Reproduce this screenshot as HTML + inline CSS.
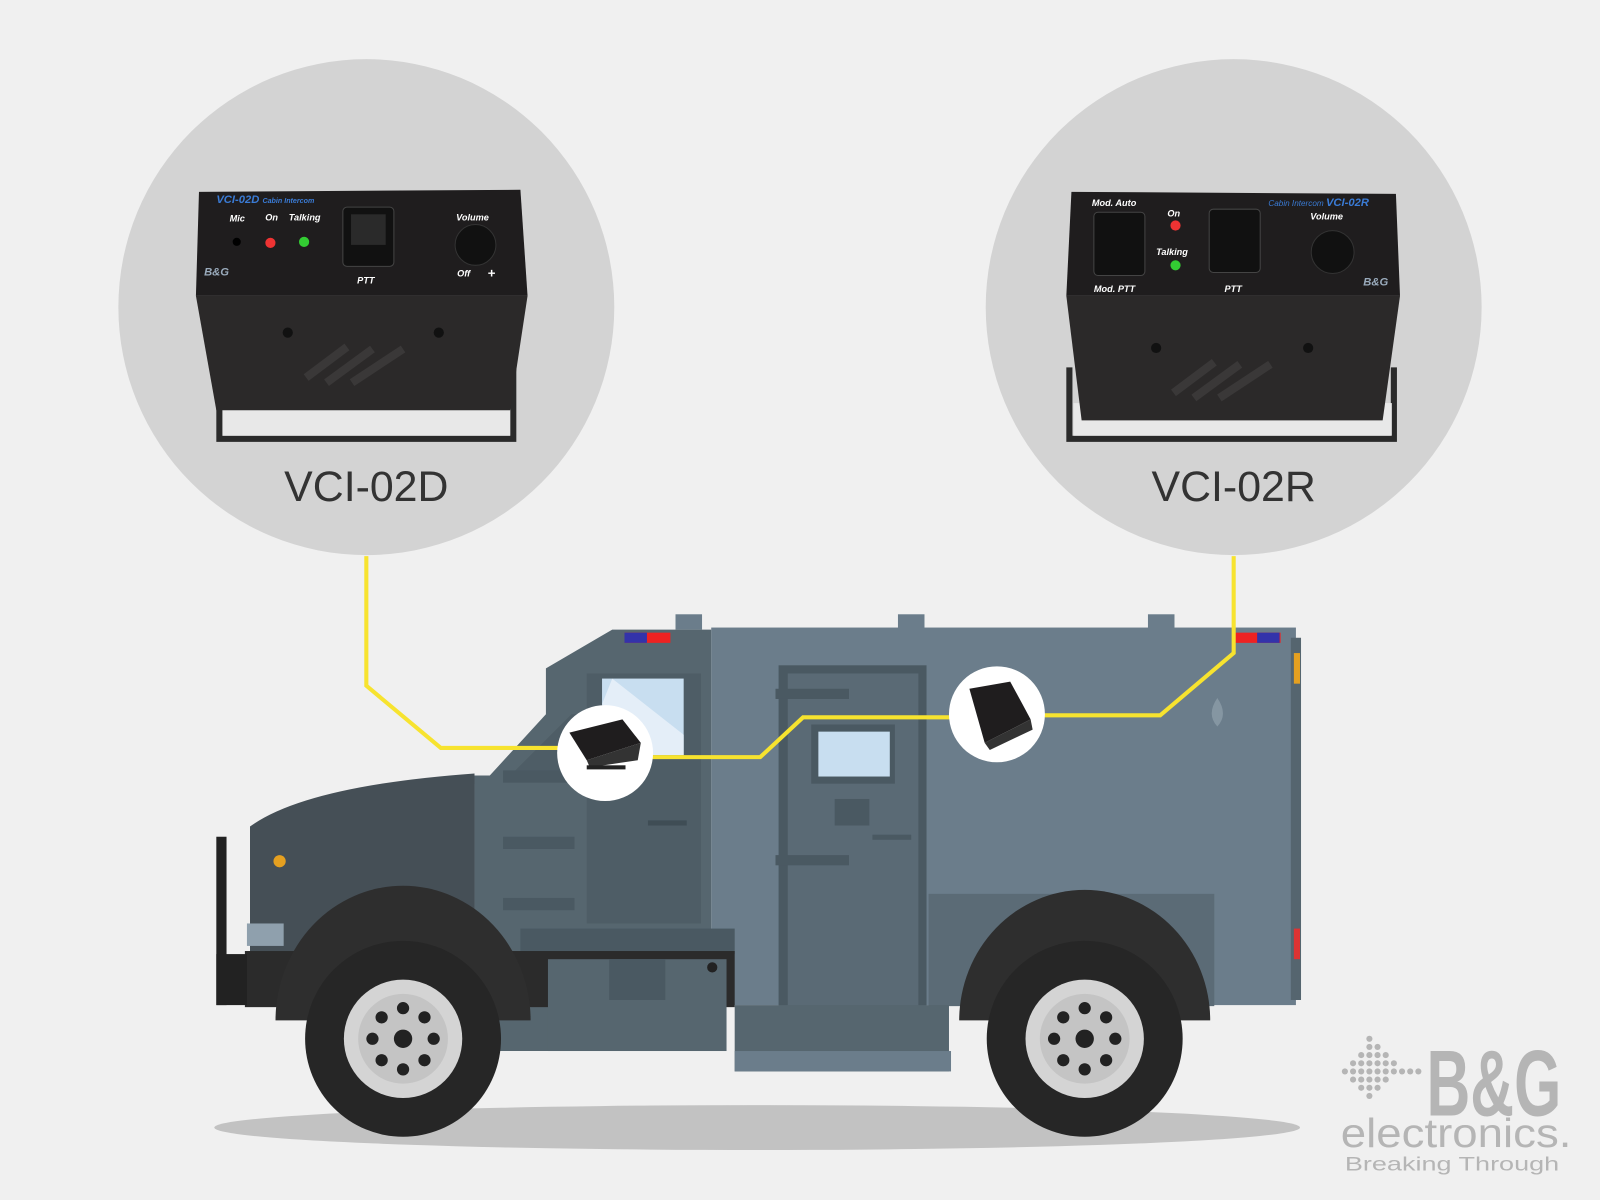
<!DOCTYPE html>
<html><head><meta charset="utf-8"><style>
html,body{margin:0;padding:0;background:#f0f0f0;width:1600px;height:1200px;overflow:hidden}
svg{display:block}
text{font-family:"Liberation Sans",sans-serif}
</style></head><body>
<svg width="1600" height="1200" viewBox="0 0 1568 1176" preserveAspectRatio="none" xmlns="http://www.w3.org/2000/svg">
<rect width="1568" height="1176" fill="#f0f0f0"/>
<circle cx="359" cy="301" r="243" fill="#d3d3d3"/>
<circle cx="1209" cy="301" r="243" fill="#d3d3d3"/>
<!-- left device -->
<g>
<path d="M215 360 L215 430 L503 430 L503 360" fill="none" stroke="#2a2a2a" stroke-width="6"/>
<rect x="218" y="395" width="282" height="32" fill="#e8e8e8"/>
<path d="M192 290 L517 290 L500 402 L212 402 Z" fill="#2b2929"/>
<path d="M195 188 L510 186 L517 290 L192 290 Z" fill="#1f1d1e"/>
<text x="212" y="199" font-size="11" fill="#3a7bd5" font-style="italic" font-weight="bold">VCI-02D <tspan font-size="7">Cabin Intercom</tspan></text>
<text x="225" y="217" font-size="9" fill="#fff" font-style="italic" font-weight="bold">Mic</text>
<text x="260" y="216" font-size="9" fill="#fff" font-style="italic" font-weight="bold">On</text>
<text x="283" y="216" font-size="9" fill="#fff" font-style="italic" font-weight="bold">Talking</text>
<text x="447" y="216" font-size="9" fill="#fff" font-style="italic" font-weight="bold">Volume</text>
<circle cx="232" cy="237" r="4" fill="#000"/>
<circle cx="265" cy="238" r="5" fill="#e33"/>
<circle cx="298" cy="237" r="5" fill="#3c3"/>
<rect x="336" y="203" width="50" height="58" rx="4" fill="#111" stroke="#444"/>
<rect x="344" y="210" width="34" height="30" fill="#2a2a2a"/>
<text x="350" y="278" font-size="9" fill="#fff" font-style="italic" font-weight="bold">PTT</text>
<circle cx="466" cy="240" r="20" fill="#111" stroke="#333"/>
<text x="448" y="271" font-size="9" fill="#fff" font-style="italic" font-weight="bold">Off</text>
<text x="478" y="272" font-size="13" fill="#fff" font-weight="bold">+</text>
<text x="200" y="270" font-size="11" fill="#9ab" font-style="italic" font-weight="bold">B&amp;G</text>
<circle cx="282" cy="326" r="5" fill="#111"/><circle cx="430" cy="326" r="5" fill="#111"/>
<path d="M300 370 L340 340 M320 375 L365 342 M345 375 L395 342" stroke="#3a3838" stroke-width="8"/>
</g>
<!-- right device -->
<g>
<path d="M1048 360 L1048 430 L1366 430 L1366 360" fill="none" stroke="#2a2a2a" stroke-width="6"/>
<rect x="1052" y="395" width="312" height="32" fill="#e8e8e8"/>
<path d="M1045 290 L1372 290 L1355 412 L1060 412 Z" fill="#2b2929"/>
<path d="M1050 188 L1368 190 L1372 290 L1045 290 Z" fill="#1f1d1e"/>
<text x="1070" y="202" font-size="9" fill="#fff" font-style="italic" font-weight="bold">Mod. Auto</text>
<text x="1072" y="286" font-size="9" fill="#fff" font-style="italic" font-weight="bold">Mod. PTT</text>
<text x="1144" y="212" font-size="9" fill="#fff" font-style="italic" font-weight="bold">On</text>
<text x="1133" y="250" font-size="9" fill="#fff" font-style="italic" font-weight="bold">Talking</text>
<text x="1243" y="202" font-size="8" fill="#3a7bd5" font-style="italic">Cabin Intercom <tspan font-size="11" font-weight="bold">VCI-02R</tspan></text>
<text x="1284" y="215" font-size="9" fill="#fff" font-style="italic" font-weight="bold">Volume</text>
<text x="1200" y="286" font-size="9" fill="#fff" font-style="italic" font-weight="bold">PTT</text>
<rect x="1072" y="208" width="50" height="62" rx="4" fill="#111" stroke="#444"/>
<rect x="1185" y="205" width="50" height="62" rx="4" fill="#111" stroke="#444"/>
<circle cx="1152" cy="221" r="5" fill="#e33"/>
<circle cx="1152" cy="260" r="5" fill="#3c3"/>
<circle cx="1306" cy="247" r="21" fill="#111" stroke="#333"/>
<text x="1336" y="280" font-size="11" fill="#9ab" font-style="italic" font-weight="bold">B&amp;G</text>
<circle cx="1133" cy="341" r="5" fill="#111"/><circle cx="1282" cy="341" r="5" fill="#111"/>
<path d="M1150 385 L1190 355 M1170 390 L1215 357 M1195 390 L1245 357" stroke="#3a3838" stroke-width="8"/>
</g>
<text x="359" y="491" font-size="42" fill="#333" text-anchor="middle">VCI-02D</text>
<text x="1209" y="491" font-size="42" fill="#333" text-anchor="middle">VCI-02R</text>
<ellipse cx="742" cy="1105" rx="532" ry="22" fill="#c2c2c2"/>
<!-- truck -->
<g>
<rect x="697" y="615" width="573" height="370" fill="#6b7d8b"/>
<rect x="662" y="602" width="26" height="15" fill="#6b7d8b"/>
<rect x="880" y="602" width="26" height="15" fill="#6b7d8b"/>
<rect x="1125" y="602" width="26" height="15" fill="#6b7d8b"/>
<rect x="1265" y="625" width="10" height="355" fill="#55656f"/>
<rect x="910" y="876" width="280" height="110" fill="#5b6b76"/>
<rect x="1210" y="620" width="45" height="10" fill="#e22"/><rect x="1232" y="620" width="22" height="10" fill="#33a"/>
<rect x="1268" y="640" width="6" height="30" fill="#e5a020"/>
<rect x="1268" y="910" width="6" height="30" fill="#d33"/>
<path d="M1193 684 Q1204 700 1193 712 Q1182 700 1193 684Z" fill="#8596a2"/>
<rect x="763" y="652" width="145" height="372" fill="#4a5962"/>
<rect x="772" y="660" width="128" height="356" fill="#5a6a75"/>
<rect x="795" y="710" width="82" height="58" fill="#4a5962"/>
<rect x="802" y="717" width="70" height="44" fill="#c8def0"/>
<rect x="818" y="783" width="34" height="26" fill="#4a5962"/>
<rect x="760" y="675" width="72" height="10" fill="#4a5962"/>
<rect x="760" y="838" width="72" height="10" fill="#4a5962"/>
<rect x="760" y="993" width="72" height="10" fill="#4a5962"/>
<rect x="855" y="818" width="38" height="5" fill="#4a5962"/>
<path d="M535 655 L600 617 L697 617 L697 1030 L465 1030 L465 760 L480 760 L535 700 Z" fill="#56666f"/>
<rect x="612" y="620" width="45" height="10" fill="#e22"/><rect x="612" y="620" width="22" height="10" fill="#33a"/>
<path d="M500 760 L560 700 L595 700 L595 760 Z" fill="#4e5d66"/>
<rect x="575" y="660" width="112" height="245" fill="#4e5d66"/>
<rect x="590" y="665" width="80" height="75" fill="#c8def0"/>
<path d="M600 665 L670 720 L670 740 L640 740 L590 690 Z" fill="#e4eef8"/>
<rect x="635" y="804" width="38" height="5" fill="#3f4d55"/>
<rect x="493" y="755" width="70" height="12" fill="#4a5962"/>
<rect x="493" y="820" width="70" height="12" fill="#4a5962"/>
<rect x="493" y="880" width="70" height="12" fill="#4a5962"/>
<rect x="510" y="910" width="210" height="25" fill="#4a5962"/>
<path d="M245 810 Q300 770 465 758 L465 935 L245 935 Z" fill="#454f56"/>
<circle cx="274" cy="844" r="6" fill="#e5a020"/>
<rect x="242" y="905" width="36" height="22" fill="#8fa0ad"/>
<rect x="240" y="932" width="480" height="55" fill="#2b2b2b"/>
<rect x="212" y="820" width="10" height="165" fill="#222"/>
<rect x="212" y="935" width="30" height="50" fill="#222"/>
<rect x="537" y="940" width="175" height="90" fill="#56666f"/>
<rect x="597" y="940" width="55" height="40" fill="#4a5962"/>
<circle cx="698" cy="948" r="5" fill="#222"/>
<rect x="720" y="985" width="210" height="65" fill="#56666f"/>
<rect x="720" y="1030" width="212" height="20" fill="#6b7d8b"/>
<path d="M270 1000 A125 132 0 0 1 520 1000 Z" fill="#2e2e2e"/>
<path d="M940 1000 A123 128 0 0 1 1186 1000 Z" fill="#2e2e2e"/>
<g>
<circle cx="395" cy="1018" r="96" fill="#262626"/>
<circle cx="395" cy="1018" r="58" fill="#d4d4d4"/>
<circle cx="395" cy="1018" r="44" fill="#c4c4c4"/>
<circle cx="395" cy="1018" r="9" fill="#222"/>
<g fill="#222"><circle cx="395" cy="988" r="6"/><circle cx="395" cy="1048" r="6"/><circle cx="365" cy="1018" r="6"/><circle cx="425" cy="1018" r="6"/><circle cx="374" cy="997" r="6"/><circle cx="416" cy="997" r="6"/><circle cx="374" cy="1039" r="6"/><circle cx="416" cy="1039" r="6"/></g>
</g>
<g>
<circle cx="1063" cy="1018" r="96" fill="#262626"/>
<circle cx="1063" cy="1018" r="58" fill="#d4d4d4"/>
<circle cx="1063" cy="1018" r="44" fill="#c4c4c4"/>
<circle cx="1063" cy="1018" r="9" fill="#222"/>
<g fill="#222"><circle cx="1063" cy="988" r="6"/><circle cx="1063" cy="1048" r="6"/><circle cx="1033" cy="1018" r="6"/><circle cx="1093" cy="1018" r="6"/><circle cx="1042" cy="997" r="6"/><circle cx="1084" cy="997" r="6"/><circle cx="1042" cy="1039" r="6"/><circle cx="1084" cy="1039" r="6"/></g>
</g>
</g>
<g fill="none" stroke="#f7e32f" stroke-width="4">
<path d="M359 545 L359 672 L432 733 L548 733"/>
<path d="M638 742 L745 742 L787 703 L932 703"/>
<path d="M1209 545 L1209 640 L1137 701 L1022 701"/>
</g>
<circle cx="593" cy="738" r="47" fill="#fff"/>
<path d="M558 718 L610 705 L628 728 L575 745 Z" fill="#1f1d1e"/>
<path d="M575 745 L628 728 L625 745 L578 752 Z" fill="#333"/>
<rect x="575" y="750" width="38" height="4" fill="#222"/>
<circle cx="977" cy="700" r="47" fill="#fff"/>
<path d="M950 675 L990 668 L1002 690 L1010 705 L965 728 Z" fill="#1f1d1e"/>
<path d="M965 728 L1010 705 L1012 715 L970 735 Z" fill="#333"/>
<!-- logo -->
<g fill="#b5b5b5">
<g>
<circle cx="1318" cy="1050" r="3"/><circle cx="1326" cy="1042" r="3"/><circle cx="1326" cy="1050" r="3"/><circle cx="1326" cy="1058" r="3"/>
<circle cx="1334" cy="1034" r="3"/><circle cx="1334" cy="1042" r="3"/><circle cx="1334" cy="1050" r="3"/><circle cx="1334" cy="1058" r="3"/><circle cx="1334" cy="1066" r="3"/>
<circle cx="1342" cy="1018" r="3"/><circle cx="1342" cy="1026" r="3"/><circle cx="1342" cy="1034" r="3"/><circle cx="1342" cy="1042" r="3"/><circle cx="1342" cy="1050" r="3"/><circle cx="1342" cy="1058" r="3"/><circle cx="1342" cy="1066" r="3"/><circle cx="1342" cy="1074" r="3"/>
<circle cx="1350" cy="1026" r="3"/><circle cx="1350" cy="1034" r="3"/><circle cx="1350" cy="1042" r="3"/><circle cx="1350" cy="1050" r="3"/><circle cx="1350" cy="1058" r="3"/><circle cx="1350" cy="1066" r="3"/>
<circle cx="1358" cy="1034" r="3"/><circle cx="1358" cy="1042" r="3"/><circle cx="1358" cy="1050" r="3"/><circle cx="1358" cy="1058" r="3"/>
<circle cx="1366" cy="1042" r="3"/><circle cx="1366" cy="1050" r="3"/><circle cx="1374" cy="1050" r="3"/><circle cx="1382" cy="1050" r="3"/><circle cx="1390" cy="1050" r="3"/>
</g>
<text x="1398" y="1093" font-size="92" font-weight="bold" textLength="132" lengthAdjust="spacingAndGlyphs">B&amp;G</text>
<text x="1314" y="1124" font-size="40" textLength="226" lengthAdjust="spacingAndGlyphs">electronics.</text>
<text x="1318" y="1147" font-size="19" textLength="210" lengthAdjust="spacingAndGlyphs">Breaking Through</text>
</g>
</svg>
</body></html>
